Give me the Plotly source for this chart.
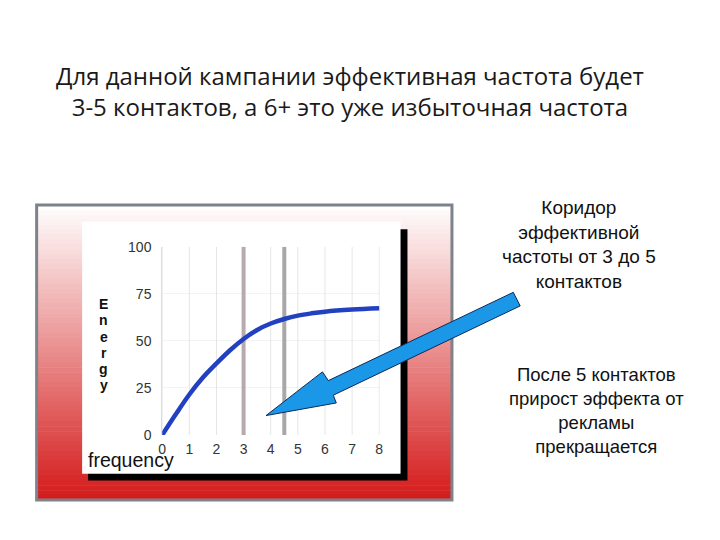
import plotly.graph_objects as go

# ---- data ----
freq = [0, 0.5, 1, 1.5, 2, 2.5, 3, 3.5, 4, 4.5, 5, 5.5, 6, 7, 8]
energy = [0, 11, 21.5, 30.5, 38, 45, 51, 55.8, 59.2, 61.6, 63.4, 64.6, 65.5, 66.6, 67.3]
corridor_x = [3, 4.5]
x_ticks = [0, 1, 2, 3, 4, 5, 6, 7, 8]
y_ticks = [0, 25, 50, 75, 100]

title_lines = ["Для данной кампании эффективная частота будет",
               "3-5 контактов, а 6+ это уже избыточная частота"]
note1 = ["Коридор", "эффективной", "частоты от 3 до 5", "контактов"]
note2 = ["После 5 контактов", "прирост эффекта от", "рекламы", "прекращается"]

W, H = 720, 540
def px(x):
    return x / W
def py(y):
    return 1 - y / H

fig = go.Figure()

# grid verticals
for t in x_ticks:
    fig.add_trace(go.Scatter(x=[t, t], y=[0, 100], mode="lines",
                             line=dict(color="#e6e6e6", width=1),
                             hoverinfo="skip", showlegend=False))
# corridor lines
corr_colors = ["#b8aaac", "#a9a7a7"]
for cx, cc in zip(corridor_x, corr_colors):
    fig.add_trace(go.Scatter(x=[cx, cx], y=[0, 100], mode="lines",
                             line=dict(color=cc, width=4),
                             hoverinfo="skip", showlegend=False))
# curve
fig.add_trace(go.Scatter(x=freq, y=energy, mode="lines",
                         line=dict(color="#2241c0", width=4.5, shape="spline", smoothing=1.0),
                         hoverinfo="skip", showlegend=False))

shapes = []
# gradient background of frame (decorative)
top, bot, left, right = 203, 507, 33, 453
n = 60
c0 = (255, 255, 255)
c1 = (212, 26, 26)
for i in range(n):
    f = (i + 0.5) / n
    col = tuple(int(round(c0[k] + (c1[k] - c0[k]) * f)) for k in range(3))
    y0 = top + (bot - top) * i / n
    y1 = top + (bot - top) * (i + 1) / n + 0.6
    shapes.append(dict(type="rect", xref="paper", yref="paper",
                       x0=px(left), x1=px(right), y0=py(y0), y1=py(y1),
                       fillcolor="rgb(%d,%d,%d)" % col, line=dict(width=0), layer="below"))
# frame border
shapes.append(dict(type="rect", xref="paper", yref="paper",
                   x0=px(left), x1=px(right), y0=py(top), y1=py(bot),
                   fillcolor="rgba(0,0,0,0)", line=dict(color="#7c838b", width=3), layer="below"))
# black shadow
shapes.append(dict(type="rect", xref="paper", yref="paper",
                   x0=px(85), x1=px(408), y0=py(228), y1=py(487),
                   fillcolor="#000000", line=dict(width=0), layer="below"))
# white panel
shapes.append(dict(type="rect", xref="paper", yref="paper",
                   x0=px(79), x1=px(401), y0=py(220), y1=py(480),
                   fillcolor="#ffffff", line=dict(width=0), layer="below"))
# arrow
arrow_pts = [(265, 420), (322, 375), (328, 384), (515, 293), (522, 307),
             (333, 399), (336, 407)]
path = "M " + " L ".join("%.5f,%.5f" % (px(a), py(b)) for a, b in arrow_pts) + " Z"
shapes.append(dict(type="path", xref="paper", yref="paper", path=path,
                   fillcolor="#1b97e8", line=dict(color="#0b2a5a", width=1), layer="above"))

annotations = []
# title (one block, 2 lines)
annotations.append(dict(text="<br>".join(title_lines), xref="paper", yref="paper",
                        x=px(350), y=py(85.5), showarrow=False, align="center",
                        xanchor="center", yanchor="middle",
                        font=dict(family="Open Sans", size=24, color="#1a1a1a")))
annotations.append(dict(text="<br>".join(note1), xref="paper", yref="paper",
                        x=px(581), y=py(243.5), showarrow=False, align="center",
                        xanchor="center", yanchor="middle",
                        font=dict(family="Liberation Sans", size=19, color="#111111")))
annotations.append(dict(text="<br>".join(note2), xref="paper", yref="paper",
                        x=px(599), y=py(414.5), showarrow=False, align="center",
                        xanchor="center", yanchor="middle",
                        font=dict(family="Liberation Sans", size=18.5, color="#111111")))
# Energy stacked
for i, ch in enumerate("Energy"):
    annotations.append(dict(text="<b>%s</b>" % ch, xref="paper", yref="paper", x=px(101), y=py(305 + 16.8 * i),
                            showarrow=False, xanchor="center", yanchor="middle",
                            font=dict(family="Liberation Sans", size=14, color="#111111")))
annotations.append(dict(text="frequency", xref="paper", yref="paper", x=px(83), y=py(466),
                        showarrow=False, xanchor="left", yanchor="middle",
                        font=dict(family="Liberation Sans", size=19.5, color="#111111")))

fig.update_layout(
    width=W, height=H,
    margin=dict(l=0, r=0, t=0, b=0),
    paper_bgcolor="#ffffff", plot_bgcolor="rgba(0,0,0,0)",
    shapes=shapes, annotations=annotations, showlegend=False,
    xaxis=dict(domain=[px(160), px(380)], range=[0, 8.02], tickvals=x_ticks,
               showgrid=False, zeroline=False, showline=False, ticks="",
               ticklabelstandoff=4,
               tickfont=dict(family="Liberation Sans", size=14, color="#333333"), fixedrange=True),
    yaxis=dict(domain=[py(440), py(246)], range=[0, 100], tickvals=y_ticks,
               showgrid=True, gridcolor="#f3f3f3", gridwidth=1, zeroline=False,
               showline=True, linecolor="#dddddd", linewidth=1, ticks="",
               ticklabelstandoff=7,
               tickfont=dict(family="Liberation Sans", size=14, color="#333333"), fixedrange=True),
)

fig.write_html("out.html", config={"displayModeBar": False},
               post_script="document.body.style.margin='0';document.body.style.overflow='hidden';")
